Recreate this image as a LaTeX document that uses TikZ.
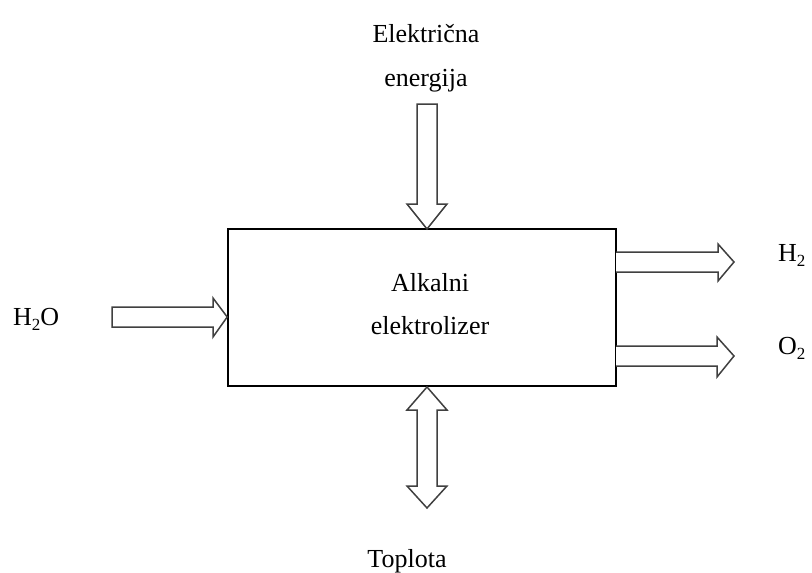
\documentclass[tikz,border=0pt]{standalone}
\usepackage{fontspec}
\setmainfont{Liberation Serif}
\newcommand{\lowsub}[1]{\raisebox{-5pt}{\fontsize{17}{17}\selectfont #1}}
\begin{document}
\begin{tikzpicture}[x=1pt,y=-1pt,
  lbl/.style={font=\fontsize{26}{30}\selectfont, inner sep=0pt, anchor=base},
  fat/.style={draw=black!75, line width=1.5pt, fill=white, line join=miter},
  boxst/.style={draw=black, line width=1.6pt, minimum width=388pt, minimum height=157pt, inner sep=0pt}]
\useasboundingbox[fill=white] (0,0) rectangle (812,573);
% main box
\node[boxst] (box) at (422,307.5) {};
\node[lbl] (t1) at (430,291) {Alkalni};
\node[lbl] (t2) at (430,334) {elektrolizer};
% labels
\node[lbl] (el1) at (426,42) {Električna};
\node[lbl] (el2) at (426,86) {energija};
\node[lbl, anchor=base west] (h2o) at (13,325) {H\lowsub{2}O};
\node[lbl, anchor=base west] (h2) at (778,261) {H\lowsub{2}};
\node[lbl, anchor=base west] (o2) at (778,354) {O\lowsub{2}};
\node[lbl] (topl) at (407,567) {Toplota};
% H2O arrow (tip at box west)
\draw[fat] (112,307) -- (213,307) -- (213,298) -- (box.west |- 0,317) -- (213,337) -- (213,327) -- (112,327) -- cycle;
% top arrow
\draw[fat] (417,104) -- (437,104) -- (437,204) -- (447,204) -- (427,229) -- (407,204) -- (417,204) -- cycle;
% H2 arrow
\draw[fat] (616,252) -- (718,252) -- (718,244) -- (734,262) -- (718,281) -- (718,272) -- (616,272);
% O2 arrow
\draw[fat] (616,346) -- (717,346) -- (717,337) -- (734,356) -- (717,377) -- (717,366) -- (616,366);
% double arrow
\draw[fat] (427,387) -- (447,410) -- (437,410) -- (437,486) -- (447,486) -- (427,508) -- (407,486) -- (417,486) -- (417,410) -- (407,410) -- cycle;
\end{tikzpicture}
\end{document}
